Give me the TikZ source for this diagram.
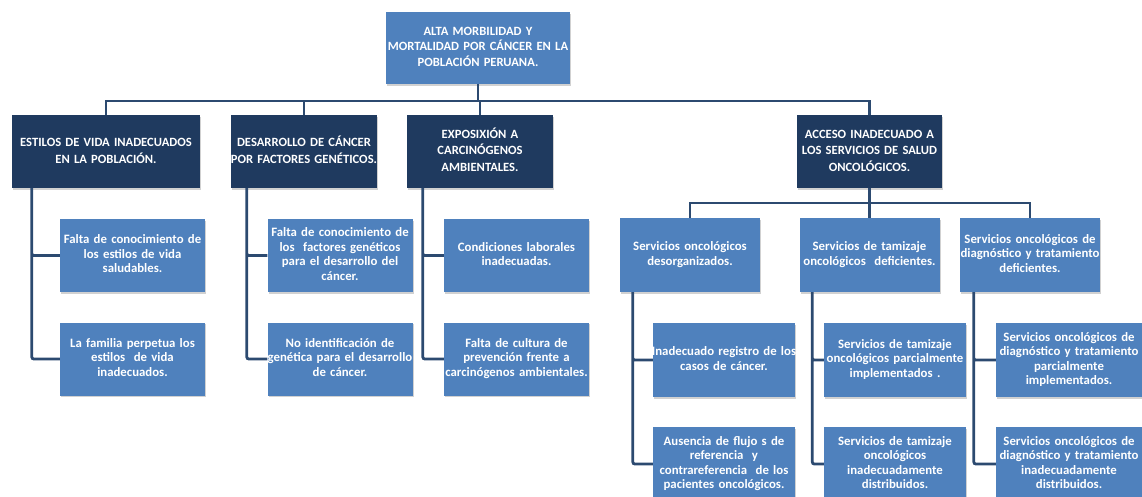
\documentclass[tikz,border=0pt]{standalone}
\usepackage{fontspec}
\setmainfont{Carlito}
\usetikzlibrary{positioning,shadows}
\definecolor{oblue}{HTML}{4F81BD}
\definecolor{onavy}{HTML}{1F3A5F}
\definecolor{oline}{HTML}{2C4A70}
% lineas centradas aunque se salgan de la caja
\newcommand{\bx}[1]{\noindent\makebox[\linewidth]{\begin{tabular}{@{}c@{}}#1\end{tabular}}}
\tikzset{
  base/.style={rectangle,text=white,align=center,inner xsep=0pt,inner ysep=1pt,
    drop shadow={shadow xshift=1.2pt,shadow yshift=-1.8pt,opacity=0.3,fill=black!60}},
  rootb/.style={base,fill=oblue,text width=184pt,minimum height=72pt,font=\bfseries\fontsize{12.6}{15}\selectfont},
  cause/.style={base,fill=onavy,text width=146pt,minimum height=73pt,font=\bfseries\fontsize{12.6}{16.5}\selectfont},
  leaf/.style={base,fill=oblue,text width=145pt,minimum height=73pt,font=\bfseries\fontsize{12.8}{14.5}\selectfont},
  link/.style={draw=oline,line width=2.8pt},
}
\begin{document}
\begin{tikzpicture}[x=1pt,y=-1pt,
  sub/.style={leaf,text width=140pt,minimum height=74pt},
  leafr/.style={leaf,text width=142pt,minimum height=74pt}]
  \useasboundingbox (0,0) rectangle (1142,497);
  % problema central
  \node[rootb] (root) at (478,48) {\bx{ALTA MORBILIDAD Y\\MORTALIDAD POR CÁNCER EN LA\\POBLACIÓN PERUANA.}};
  % causas
  \node[cause,text width=188pt] (est) at (106,151.5) {\bx{ESTILOS DE VIDA INADECUADOS\\EN LA POBLACIÓN.}};
  \node[cause] (gen) at (304,151.5) {\bx{DESARROLLO DE CÁNCER\\POR FACTORES GENÉTICOS.}};
  \node[cause] (amb) at (480,151.5) {\bx{EXPOSIXIÓN A\\CARCINÓGENOS\\AMBIENTALES.}};
  \node[cause,text width=145pt] (acc) at (869.5,151.5) {\bx{ACCESO INADECUADO A\\LOS SERVICIOS DE SALUD\\ONCOLÓGICOS.}};
  \coordinate (bus) at (480,101);
  \draw[link] (est.north) |- (bus) -| (acc.north);
  \draw[link] (root.south) -- (root.south |- bus) (gen.north) -- (gen.north |- bus) (amb.north) -- (amb.north |- bus);
  % estilos de vida
  \node[leaf] (est1) at (132.5,255.5) {\bx{Falta de conocimiento de\\los estilos de vida\\saludables.}};
  \node[leaf] (est2) at (132.5,359) {\bx{La familia perpetua los\\estilos~ de vida\\inadecuados.}};
  \draw[link,rounded corners=2pt] ([xshift=20pt]est.south west) |- (est1.west) ([xshift=20pt]est.south west) |- (est2.west);
  % geneticos
  \node[leaf] (gen1) at (340,255.5) {\bx{Falta de conocimiento de\\los~ factores genéticos\\para el desarrollo del\\cáncer.}};
  \node[leaf] (gen2) at (340,359) {\bx{No identificación de\\genética para el desarrollo\\de cáncer.}};
  \draw[link,rounded corners=2pt] ([xshift=16pt]gen.south west) |- (gen1.west) ([xshift=16pt]gen.south west) |- (gen2.west);
  % ambientales
  \node[leaf] (amb1) at (516.5,255.5) {\bx{Condiciones laborales\\inadecuadas.}};
  \node[leaf] (amb2) at (516.5,359) {\bx{Falta de cultura de\\prevención frente a\\carcinógenos ambientales.}};
  \draw[link,rounded corners=2pt] ([xshift=16pt]amb.south west) |- (amb1.west) ([xshift=16pt]amb.south west) |- (amb2.west);
  % acceso
  \node[sub] (srv) at (690,255) {\bx{Servicios oncológicos\\desorganizados.}};
  \node[sub] (tam) at (869.5,255) {\bx{Servicios de tamizaje\\oncológicos~ deficientes.}};
  \node[sub] (dia) at (1030,255) {\bx{Servicios oncológicos de\\diagnóstico y tratamiento\\deficientes.}};
  \coordinate (bus2) at (869.5,203);
  \draw[link] (srv.north) |- (bus2) -| (dia.north) (acc.south) -- (tam.north);
  \node[leafr] (srv1) at (724,360) {\bx{Inadecuado registro de los\\casos de cáncer.}};
  \node[leafr] (srv2) at (724,464) {\bx{Ausencia de flujo s de\\referencia~ y\\contrareferencia~ de los\\pacientes oncológicos.}};
  \node[leafr] (tam1) at (895,360) {\bx{Servicios de tamizaje\\oncológicos parcialmente\\implementados .}};
  \node[leafr] (tam2) at (895,464) {\bx{Servicios de tamizaje\\oncológicos\\inadecuadamente\\distribuidos.}};
  \node[leafr,text width=146pt] (dia1) at (1069,360) {\bx{Servicios oncológicos de\\diagnóstico y tratamiento\\parcialmente\\implementados.}};
  \node[leafr,text width=146pt] (dia2) at (1069,464) {\bx{Servicios oncológicos de\\diagnóstico y tratamiento\\inadecuadamente\\distribuidos.}};
  \draw[link,rounded corners=2pt] ([xshift=13pt]srv.south west) |- (srv1.west) ([xshift=13pt]srv.south west) |- (srv2.west);
  \draw[link,rounded corners=2pt] ([xshift=13pt]tam.south west) |- (tam1.west) ([xshift=13pt]tam.south west) |- (tam2.west);
  \draw[link,rounded corners=2pt] ([xshift=14pt]dia.south west) |- (dia1.west) ([xshift=14pt]dia.south west) |- (dia2.west);
\end{tikzpicture}
\end{document}
